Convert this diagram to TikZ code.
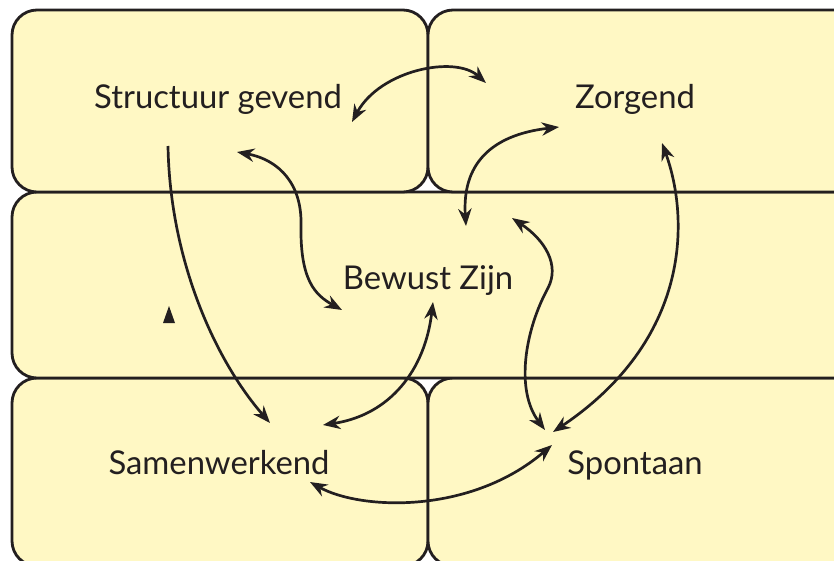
\documentclass[tikz,border=0pt]{standalone}
\usepackage{fontspec}
\setmainfont{Lato}
\usepackage{tikz}
\usetikzlibrary{arrows.meta,positioning}
\usepackage{xcolor}
\definecolor{kwyellow}{RGB}{255,248,196}
\definecolor{kwdark}{RGB}{35,31,32}
\tikzstyle{panel} = [draw=kwdark, fill=kwyellow, line width=2.4pt, rounded corners=0.75cm]
\tikzstyle{rolename} = [text=kwdark, font=\fontsize{28}{32}\selectfont, anchor=base]
\tikzstyle{dbl} = [line width=2.3pt, draw=kwdark, {Stealth[length=0.52cm,width=0.4cm]}-{Stealth[length=0.52cm,width=0.4cm]}]
\tikzstyle{sgl} = [line width=2.3pt, draw=kwdark, -{Stealth[length=0.52cm,width=0.4cm]}]

\begin{document}
\begin{tikzpicture}[x=0.03cm, y=-0.03cm]
\useasboundingbox (0,0) rectangle (834,561);
\clip (0,0) rectangle (834,561);

% panels
\draw[panel] (12,378) rectangle (428,566);
\draw[panel] (428,378) rectangle (860,566);
\draw[panel] (12,192) rectangle (860,378);
\draw[panel] (12,10) rectangle (428,192);
\draw[panel] (428,10) rectangle (860,192);

% roles
\node[rolename] (struct) at (218,108) {Structuur gevend};
\node[rolename] (zorg) at (635,108) {Zorgend};
\node[rolename] (bewust) at (428,289) {Bewust Zijn};
\node[rolename] (samen) at (219,474) {Samenwerkend};
\node[rolename] (spont) at (635,474) {Spontaan};

% arrow ends
\coordinate (struct-r) at (352,122);
\coordinate (struct-b) at (237,152);
\coordinate (struct-d) at (168,146);
\coordinate (zorg-l) at (486,83);
\coordinate (zorg-b) at (559,127);
\coordinate (zorg-r) at (662,143);
\coordinate (bewust-t) at (466,226);
\coordinate (bewust-l) at (342,310);
\coordinate (bewust-b) at (433,302);
\coordinate (bewust-r) at (512,218);
\coordinate (samen-t) at (270,423);
\coordinate (samen-r) at (323,425);
\coordinate (samen-b) at (310,482);
\coordinate (spont-t) at (545,430);
\coordinate (spont-r) at (553,432);
\coordinate (spont-l) at (552,445);

% connections
\draw[dbl] (struct-r) .. controls (380,70) and (455,55) .. (zorg-l);
\draw[dbl] (zorg-b) .. controls (490,135) and (462,165) .. (bewust-t);
\draw[dbl] (struct-b) .. controls (280,160) and (302,185) .. (301,225)
  .. controls (300,280) and (315,295) .. (bewust-l);
\draw[sgl] (struct-d) .. controls (170,260) and (215,360) .. (samen-t);
\draw[dbl] (bewust-b) .. controls (425,370) and (390,415) .. (samen-r);
\draw[dbl] (bewust-r) .. controls (545,240) and (560,265) .. (548,288)
  .. controls (525,330) and (515,390) .. (spont-t);
\draw[dbl] (zorg-r) .. controls (690,220) and (690,340) .. (spont-r);
\draw[dbl] (samen-b) .. controls (360,510) and (470,515) .. (spont-l);

% loose tip
\fill[kwdark] (163,323) -- (169,306) -- (175,323) -- cycle;
\end{tikzpicture}
\end{document}
